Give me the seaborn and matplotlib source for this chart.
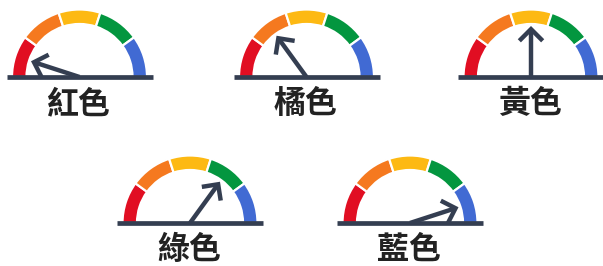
import matplotlib
matplotlib.use('Agg')
import matplotlib.pyplot as plt
from matplotlib.patches import Wedge
import numpy as np
import seaborn as sns

# data
labels = ['紅色', '橘色', '黃色', '綠色', '藍色']
values = [10, 30, 50, 70, 90]          # needle position, percent of the dial
segment_colors = ['#E10E22', '#F5791F', '#FDB913', '#03963F', '#416AD3']

# layout (pixel positions of each dial's pivot)
centers = [(79.5, 77), (306.5, 77), (531, 77), (190, 223), (410, 223)]

sns.set_theme(style='white')
plt.rcParams['font.family'] = ['Noto Sans CJK TC', 'DejaVu Sans']

W, H = 603, 266
fig = plt.figure(figsize=(W / 100, H / 100), dpi=100)
ax = fig.add_axes([0, 0, 1, 1])
ax.set_xlim(0, W)
ax.set_ylim(0, H)
ax.set_aspect('equal')
ax.axis('off')

dark = '#343E51'
r_out, band = 67.5, 14.5
n = len(segment_colors)
palette = sns.color_palette(segment_colors)

for label, val, (cx, cy) in zip(labels, values, centers):
    y = H - cy
    step = 180 / n
    for i, col in enumerate(palette):
        t2 = 180 - i * step
        t1 = t2 - step
        ax.add_patch(Wedge((cx, y), r_out, t1, t2, width=band,
                           facecolor=col, edgecolor='white', lw=1.6, zorder=2))
    # baseline
    ax.plot([cx - 73, cx + 73], [y, y], color=dark, lw=3.4,
            solid_capstyle='butt', zorder=3)
    # needle
    ang = np.deg2rad(180 - val / 100 * 180)
    L = 51
    ax.annotate('', xy=(cx + L * np.cos(ang), y + L * np.sin(ang)), xytext=(cx, y),
                arrowprops=dict(arrowstyle='->,head_length=0.42,head_width=0.42',
                                color=dark, lw=3.2, shrinkA=0, shrinkB=0,
                                mutation_scale=20, joinstyle='miter', capstyle='butt'),
                zorder=4)
    ax.text(cx - 1, y - 27, label, ha='center', va='center',
            fontsize=23, color='#222222', fontweight='bold')

fig.savefig('out.png', dpi=100)
